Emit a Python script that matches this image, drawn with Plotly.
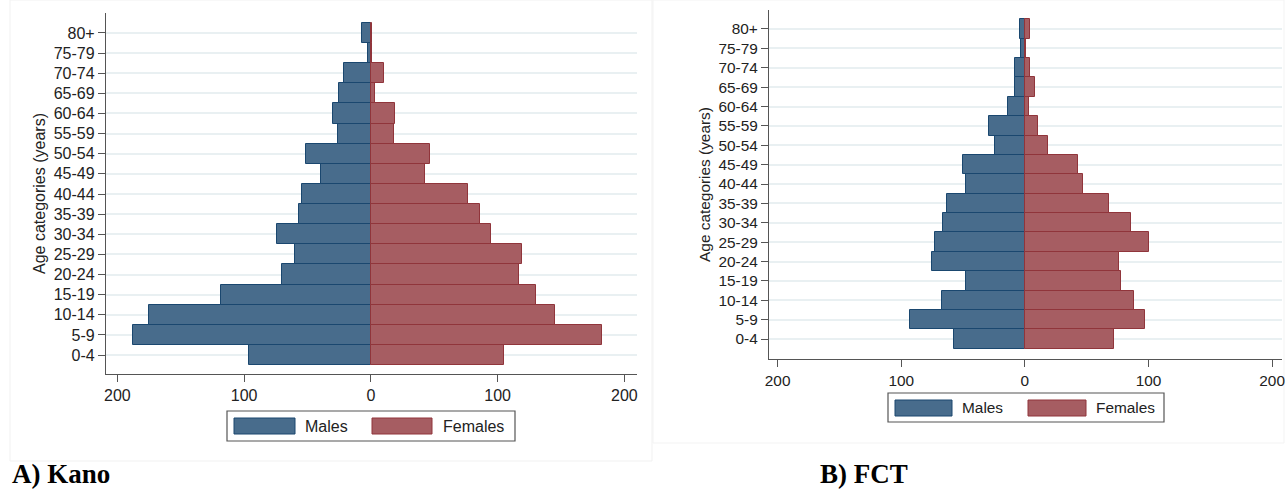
import plotly.graph_objects as go

age_groups = ["0-4", "5-9", "10-14", "15-19", "20-24", "25-29", "30-34", "35-39",
              "40-44", "45-49", "50-54", "55-59", "60-64", "65-69", "70-74", "75-79", "80+"]

kano_males = [96, 188, 175, 118, 70, 60, 74, 57, 54, 39, 51, 26, 30, 25, 21, 2, 7]
kano_females = [105, 182, 145, 130, 117, 119, 95, 86, 77, 43, 47, 18, 19, 3, 10, 1, 1]

fct_males = [57, 93, 67, 48, 75, 73, 66, 63, 48, 50, 24, 29, 14, 8, 8, 3, 4]
fct_females = [72, 97, 88, 78, 76, 100, 86, 68, 47, 43, 19, 11, 3, 8, 4, 1, 4]

x_tickvals = [-200, -100, 0, 100, 200]
x_ticktext = ["200", "100", "0", "100", "200"]

MALE_FILL = "#486c8c"
MALE_LINE = "#1a476f"
FEM_FILL = "#a65d62"
FEM_LINE = "#90353b"
W, H = 1285, 491
FONT = "Liberation Sans"

idx = list(range(len(age_groups)))

fig = go.Figure()

def add_panel(males, females, xa, ya):
    fig.add_trace(go.Bar(
        y=idx, x=[-v for v in males], orientation="h", width=1.0,
        marker=dict(color=MALE_FILL, line=dict(color=MALE_LINE, width=1)),
        name="Males", showlegend=False, xaxis=xa, yaxis=ya))
    fig.add_trace(go.Bar(
        y=idx, x=females, orientation="h", width=1.0,
        marker=dict(color=FEM_FILL, line=dict(color=FEM_LINE, width=1)),
        name="Females", showlegend=False, xaxis=xa, yaxis=ya))

add_panel(kano_males, kano_females, "x", "y")
add_panel(fct_males, fct_females, "x2", "y2")

def px(x):
    return x / W

def py(y):
    return 1 - y / H

def xaxis_cfg(dom, rng, fs):
    return dict(domain=dom, range=rng, tickvals=x_tickvals, ticktext=x_ticktext,
                ticks="outside", ticklen=7, tickcolor="#555555", tickwidth=1,
                showline=True, linecolor="#555555", linewidth=1.3,
                showgrid=False, zeroline=False, automargin=False,
                tickfont=dict(family=FONT, size=fs, color="#222222"))

def yaxis_cfg(dom, rng, fs, standoff):
    return dict(domain=dom, range=rng, tickvals=idx, ticktext=age_groups,
                ticks="outside", ticklen=7, tickcolor="#555555", tickwidth=1,
                showline=True, linecolor="#555555", linewidth=1.3,
                showgrid=True, gridcolor="#e9f0f2", gridwidth=1.5,
                zeroline=False, automargin=False,
                tickfont=dict(family=FONT, size=fs, color="#222222"),
                title=dict(text="Age categories (years)", standoff=standoff,
                           font=dict(family=FONT, size=fs, color="#222222")))

fig.update_layout(
    width=W, height=H, autosize=False,
    margin=dict(l=0, r=0, t=0, b=0),
    paper_bgcolor="white", plot_bgcolor="white",
    barmode="relative", bargap=0,
    showlegend=False,
    xaxis=xaxis_cfg([px(106), px(637)], [-209, 210], 16),
    yaxis=yaxis_cfg([py(374), py(13)], [-0.94, 16.99], 16, 4),
    xaxis2=xaxis_cfg([px(769), px(1282)], [-207, 208], 15.4),
    yaxis2=yaxis_cfg([py(359), py(10)], [-1.03, 16.98], 15.4, 4),
)
fig.layout.xaxis2.anchor = "y2"
fig.layout.yaxis2.anchor = "x2"

shapes = []
annotations = []

# faint panel borders
shapes.append(dict(type="rect", xref="paper", yref="paper", x0=px(10), x1=px(652),
                   y0=py(461), y1=py(0), line=dict(color="#f1f1f1", width=1), layer="below"))
shapes.append(dict(type="rect", xref="paper", yref="paper", x0=px(653), x1=px(1284),
                   y0=py(443), y1=py(0), line=dict(color="#f3f3f3", width=1), layer="below"))

def legend_box(box, msw, mtx, fsw, ftx, fs):
    x0, y0, x1, y1 = box
    shapes.append(dict(type="rect", xref="paper", yref="paper", x0=px(x0), x1=px(x1),
                       y0=py(y1), y1=py(y0), line=dict(color="#555555", width=1.2),
                       fillcolor="white"))
    for (sx0, sx1, sy0, sy1), fill, line in [(msw, MALE_FILL, MALE_LINE), (fsw, FEM_FILL, FEM_LINE)]:
        shapes.append(dict(type="rect", xref="paper", yref="paper", x0=px(sx0), x1=px(sx1),
                           y0=py(sy1), y1=py(sy0), line=dict(color=line, width=1),
                           fillcolor=fill))
    for tx, txt in [(mtx, "Males"), (ftx, "Females")]:
        annotations.append(dict(xref="paper", yref="paper", x=px(tx), y=py((y0 + y1) / 2),
                                text=txt, showarrow=False, xanchor="left", yanchor="middle",
                                font=dict(family=FONT, size=fs, color="#222222")))

legend_box((227, 411, 515, 441), (234, 295, 418, 434), 303, (372, 432, 418, 434), 441, 16)
legend_box((888, 393, 1164, 422), (895, 952, 400, 416), 960, (1028, 1086, 400, 416), 1094, 15.4)

for x, txt in [(10, "A) Kano"), (818, "B) FCT")]:
    annotations.append(dict(xref="paper", yref="paper", x=px(x), y=0,
                            text="<b>" + txt + "</b>", showarrow=False,
                            xanchor="left", yanchor="bottom",
                            font=dict(family="Liberation Serif", size=27, color="black")))

fig.update_layout(shapes=shapes, annotations=annotations)
fig.write_html("out.html", config={"displayModeBar": False},
               post_script="document.body.style.margin='0';document.body.style.overflow='hidden';")
